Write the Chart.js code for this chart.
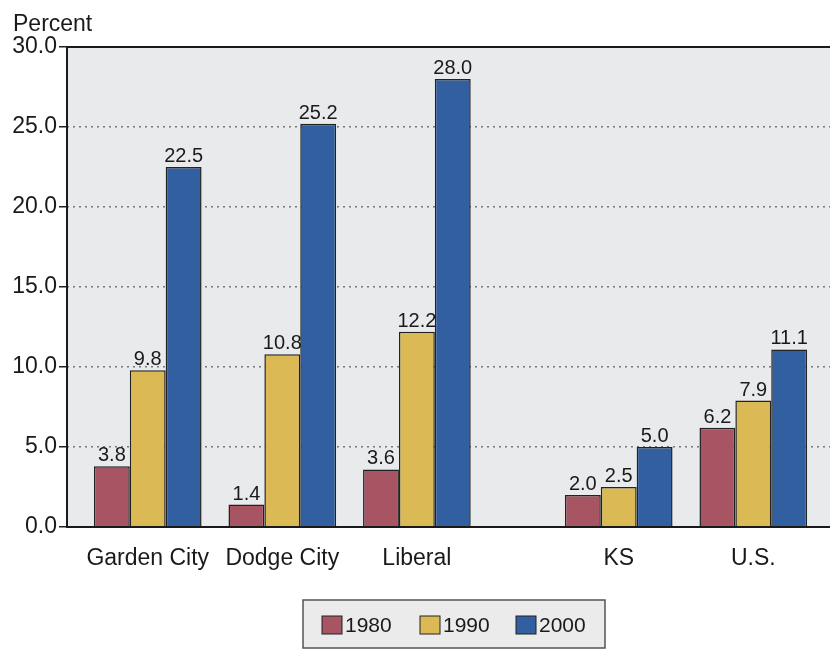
<!DOCTYPE html>
<html>
<head>
<meta charset="utf-8">
<script src="https://cdn.jsdelivr.net/npm/chart.js@4.4.1/dist/chart.umd.min.js"></script>
<style>
  html, body { margin: 0; padding: 0; background: #ffffff; }
  #wrap { position: relative; width: 830px; height: 649px; }
</style>
</head>
<body>
<div id="wrap"><canvas id="chart" width="830" height="649"></canvas></div>
<script>
// ---- data ----
const categories = ["Garden City", "Dodge City", "Liberal", "KS", "U.S."];
// x positions of the groups (gap of half a group before KS)
const groupPositions = [0, 1, 2, 3.5, 4.5];
const seriesNames = ["1980", "1990", "2000"];
const values1980 = [3.8, 1.4, 3.6, 2.0, 6.2];
const values1990 = [9.8, 10.8, 12.2, 2.5, 7.9];
const values2000 = [22.5, 25.2, 28.0, 5.0, 11.1];
const yTicks = [0, 5, 10, 15, 20, 25, 30];

const seriesColors = ["#a85563", "#dbb955", "#315f9f"];
const FONT = "'Liberation Sans', Arial, sans-serif";
const TEXT = "#1a1a1a";

function toPoints(values) {
    return values.map((v, i) => ({ x: groupPositions[i], y: v }));
}

// plot background, frame, title, value labels and boxed legend
const decorPlugin = {
    id: "decor",
    beforeDraw(chart) {
        const { ctx, chartArea } = chart;
        ctx.save();
        ctx.fillStyle = "#e9eaec";
        ctx.fillRect(chartArea.left, chartArea.top, chartArea.right - chartArea.left, chartArea.bottom - chartArea.top);
        ctx.restore();
    },
    afterDatasetsDraw(chart) {
        const { ctx } = chart;
        ctx.save();
        ctx.font = "20px " + FONT;
        ctx.fillStyle = TEXT;
        ctx.textAlign = "center";
        ctx.textBaseline = "alphabetic";
        chart.data.datasets.forEach((ds, di) => {
            const meta = chart.getDatasetMeta(di);
            meta.data.forEach((bar, i) => {
                ctx.fillText(ds.data[i].y.toFixed(1), bar.x, bar.y - 5);
            });
        });
        ctx.restore();
    },
    afterDraw(chart) {
        const { ctx, chartArea } = chart;
        ctx.save();
        // frame
        ctx.strokeStyle = "#1a1a1a";
        ctx.lineWidth = 2;
        ctx.beginPath();
        ctx.moveTo(chartArea.right + 2, chartArea.top);
        ctx.lineTo(chartArea.left, chartArea.top);
        ctx.lineTo(chartArea.left, chartArea.bottom);
        ctx.lineTo(chartArea.right + 2, chartArea.bottom);
        ctx.stroke();

        // axis title
        ctx.font = "23px " + FONT;
        ctx.fillStyle = TEXT;
        ctx.textAlign = "left";
        ctx.textBaseline = "alphabetic";
        ctx.fillText("Percent", 13, 31);

        // legend box
        ctx.fillStyle = "#ebebeb";
        ctx.fillRect(303, 600, 302, 48);
        ctx.strokeStyle = "#555";
        ctx.lineWidth = 1.5;
        ctx.strokeRect(303, 600, 302, 48);
        const itemX = [322, 420, 516];
        ctx.font = "21px " + FONT;
        ctx.textBaseline = "middle";
        chart.data.datasets.forEach((ds, i) => {
            ctx.fillStyle = ds.backgroundColor;
            ctx.fillRect(itemX[i], 616, 20, 18);
            ctx.strokeStyle = "#222";
            ctx.lineWidth = 1;
            ctx.strokeRect(itemX[i], 616, 20, 18);
            ctx.fillStyle = TEXT;
            ctx.fillText(ds.label, itemX[i] + 23, 626);
        });
        ctx.restore();
    }
};

const ctx = document.getElementById("chart").getContext("2d");
new Chart(ctx, {
    type: "bar",
    data: {
        datasets: [
            { label: seriesNames[0], data: toPoints(values1980), backgroundColor: seriesColors[0] },
            { label: seriesNames[1], data: toPoints(values1990), backgroundColor: seriesColors[1] },
            { label: seriesNames[2], data: toPoints(values2000), backgroundColor: seriesColors[2] }
        ].map(ds => Object.assign(ds, {
            borderColor: "#222",
            borderWidth: 1.5,
            borderSkipped: "bottom",
            categoryPercentage: 0.8,
            barPercentage: 1.0
        }))
    },
    options: {
        responsive: false,
        animation: false,
        events: [],
        layout: { padding: { top: 47, right: 0, bottom: 72, left: 0 } },
        plugins: {
            legend: { display: false },
            tooltip: { enabled: false }
        },
        scales: {
            x: {
                type: "linear",
                offset: false,
                min: -0.6,
                max: 5.07,
                afterBuildTicks(scale) {
                    scale.ticks = groupPositions.map(v => ({ value: v }));
                },
                afterFit(scale) { scale.height = 50; },
                ticks: {
                    autoSkip: false,
                    maxRotation: 0,
                    padding: 10,
                    color: TEXT,
                    font: { family: FONT, size: 23 },
                    callback(value) {
                        const idx = groupPositions.indexOf(value);
                        return idx >= 0 ? categories[idx] : "";
                    }
                },
                grid: { display: false },
                border: { display: false }
            },
            y: {
                min: 0,
                max: 30,
                afterBuildTicks(scale) {
                    scale.ticks = yTicks.map(v => ({ value: v }));
                },
                afterFit(scale) { scale.width = 67; },
                ticks: {
                    padding: 2,
                    color: TEXT,
                    font: { family: FONT, size: 23 },
                    callback: value => value.toFixed(1)
                },
                grid: {
                    color: c => (c.tick && (c.tick.value === 0 || c.tick.value === 30)) ? "rgba(0,0,0,0)" : "#777",
                    lineWidth: 1.5,
                    drawTicks: true,
                    tickLength: 8,
                    tickColor: "#222",
                    tickWidth: 1.5
                },
                border: { display: false, dash: [2, 4] }
            }
        }
    },
    plugins: [decorPlugin]
});
</script>
</body>
</html>
